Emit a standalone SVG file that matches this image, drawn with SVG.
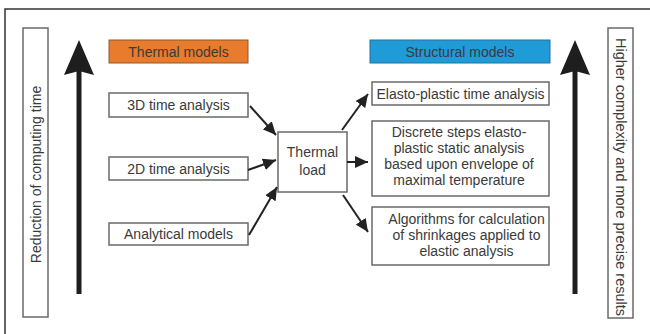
<svg xmlns="http://www.w3.org/2000/svg" width="650" height="334" viewBox="0 0 650 334">
<style>
.box{fill:#fff;stroke:#6a6a6a;stroke-width:1.5}
.t{font-family:"Liberation Sans",Arial,sans-serif;font-size:14px;fill:#3a3a3a;text-anchor:middle}
.c{stroke:#222;stroke-width:2;fill:none;marker-end:url(#ah)}
.big{fill:#1e1e1e}
</style>
<defs>
<marker id="ah" markerUnits="userSpaceOnUse" markerWidth="13" markerHeight="12" refX="13" refY="6" orient="auto">
<path d="M0,0 L13,6 L0,12 z" fill="#222"/>
</marker>
</defs>
<rect width="650" height="334" fill="#fff"/>
<path d="M5,334 V9 H650" fill="none" stroke="#333" stroke-width="1.5"/>

<g id="left-label">
<rect class="box" x="23" y="28" width="25" height="289"/>
<text class="t" transform="translate(40.5,174.5) rotate(-90)">Reduction of computing time</text>
</g>
<g id="left-arrow">
<rect class="big" x="76.5" y="68" width="5" height="226"/>
<path class="big" d="M79,40 L94,75 L79,71 L64,75 Z"/>
</g>
<g id="right-label">
<rect class="box" x="608" y="28" width="25" height="290"/>
<text class="t" style="font-size:14.5px" transform="translate(615.5,177) rotate(90)">Higher complexity and more precise results</text>
</g>
<g id="right-arrow">
<rect class="big" x="572.5" y="68" width="5" height="226"/>
<path class="big" d="M575,40 L590,75 L575,71 L560,75 Z"/>
</g>

<g id="thermal-models">
<rect x="109" y="40" width="139" height="23" fill="#e97b2c" stroke="#8a5a30" stroke-width="1"/>
<text class="t" x="178.5" y="56.5">Thermal models</text>
</g>
<g id="structural-models">
<rect x="370" y="40" width="180" height="23" fill="#1f9bd7" stroke="#2a6f95" stroke-width="1"/>
<text class="t" x="460" y="56.5">Structural models</text>
</g>

<g id="n3d">
<rect class="box" x="109" y="93" width="139" height="24"/>
<text class="t" x="178.5" y="110">3D time analysis</text>
</g>
<g id="n2d">
<rect class="box" x="109" y="157" width="139" height="23"/>
<text class="t" x="178.5" y="173.5">2D time analysis</text>
</g>
<g id="analytical">
<rect class="box" x="109" y="223" width="139" height="22"/>
<text class="t" x="178.5" y="239">Analytical models</text>
</g>
<g id="thermal-load">
<rect class="box" x="278" y="132" width="69" height="60"/>
<text class="t" x="312.5" y="157">Thermal</text>
<text class="t" x="312.5" y="175">load</text>
</g>
<g id="elasto">
<rect class="box" x="372" y="82" width="177" height="23"/>
<text class="t" x="460.5" y="98.5">Elasto-plastic time analysis</text>
</g>
<g id="discrete">
<rect class="box" x="372" y="121" width="177" height="75"/>
<text class="t" x="459" y="137">Discrete steps elasto-</text>
<text class="t" x="459" y="153">plastic static analysis</text>
<text class="t" x="459" y="169">based upon envelope of</text>
<text class="t" x="459" y="185">maximal temperature</text>
</g>
<g id="algorithms">
<rect class="box" x="372" y="207" width="177" height="58"/>
<text class="t" x="466.5" y="224">Algorithms for calculation</text>
<text class="t" x="466.5" y="240">of shrinkages applied to</text>
<text class="t" x="466.5" y="256">elastic analysis</text>
</g>

<g id="connectors">
<line class="c" x1="250" y1="106" x2="276" y2="135"/>
<line class="c" x1="248" y1="170" x2="276" y2="160"/>
<line class="c" x1="249" y1="235" x2="277" y2="187"/>
<line class="c" x1="342" y1="130" x2="368" y2="94"/>
<line class="c" x1="347" y1="162" x2="368" y2="162"/>
<line class="c" x1="343" y1="195" x2="368" y2="232"/>
</g>
</svg>
